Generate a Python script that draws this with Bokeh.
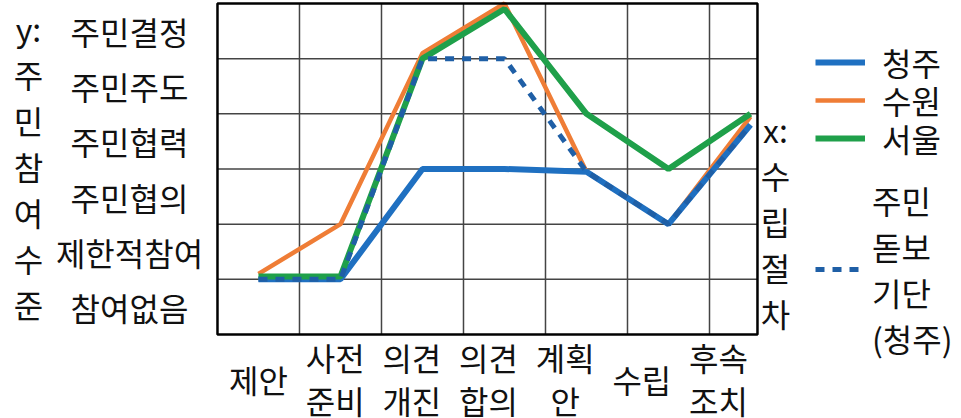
from bokeh.plotting import figure
from bokeh.models import Legend, LegendItem, Range1d
from bokeh.core.properties import value
from bokeh.embed import file_html
from bokeh.resources import INLINE

# ---- data ----
steps = ["제안", "사전\n준비", "의견\n개진", "의견\n합의", "계획\n안", "수립", "후속\n조치"]
levels = ["참여없음", "제한적참여", "주민협의", "주민협력", "주민주도", "주민결정"]
x_idx = [0, 1, 2, 3, 4, 5, 6]
cheongju = [1.0, 1.0, 3.0, 3.0, 2.95, 2.0, 3.8]
suwon = [1.1, 2.0, 5.1, 6.0, 2.95, 2.0, 3.95]
seoul = [1.05, 1.05, 5.0, 5.9, 4.0, 3.0, 4.0]
dotbogi = [1.0, 1.0, 5.0, 5.0, 2.95, 2.0, 3.8]
series_names = ["청주", "수원", "서울", "주민\n돋보\n기단\n(청주)"]
y_title = "y:\n주\n민\n참\n여\n수\n준"
x_title = "x:\n수\n립\n절\n차"

# ---- style / layout ----
FONT = value("Noto Sans CJK KR")
FS = value("32px")
TXT = "#111111"
BLUE = "#1f70c1"
ORANGE = "#ef7d36"
GREEN = "#1fa04a"
DASH = "#1f5fa6"
GRID = "#444444"

W, H = 961, 418
BOX_L, BOX_R = -0.5, 6.085          # plot box in data units
BOX_B, BOX_T = 0, len(levels)
X_START, X_END = -3.146, 8.573
Y_START, Y_END = -1.5226, 6.054
LABEL_PITCH = 0.935                  # spacing of the category labels
XLAB_Y = -0.80
YLAB_X = -1.573

p = figure(width=W, height=H, output_backend="svg", toolbar_location=None,
           x_axis_location=None, y_axis_location=None,
           x_range=Range1d(X_START, X_END), y_range=Range1d(Y_START, Y_END),
           min_border=0)
p.grid.visible = False
p.outline_line_color = None
p.background_fill_color = "white"
p.border_fill_color = "white"

# grid lines between categories and between levels
vx = [i + 0.5 for i in x_idx[:-1]]
p.segment(x0=vx, y0=[BOX_B] * len(vx), x1=vx, y1=[BOX_T] * len(vx),
          line_color=GRID, line_width=1.5)
hy = list(range(1, len(levels)))
p.segment(x0=[BOX_L] * len(hy), y0=hy, x1=[BOX_R] * len(hy), y1=hy,
          line_color=GRID, line_width=1.5)

r_su = p.line(x_idx, suwon, line_color=ORANGE, line_width=4.5)
r_cj = p.line(x_idx, cheongju, line_color=BLUE, line_width=6)
r_se = p.line(x_idx, seoul, line_color=GREEN, line_width=6)
r_db = p.line(x_idx, dotbogi, line_color=DASH, line_width=5, line_dash="9 8")

# plot box
p.quad(left=[BOX_L], right=[BOX_R], bottom=[BOX_B], top=[BOX_T],
       fill_color=None, line_color="black", line_width=2.5)

# y category labels
p.text(x=[YLAB_X] * len(levels), y=[i + 0.5 for i in range(len(levels))], text=levels,
       text_align="center", text_baseline="middle",
       text_font=FONT, text_font_size=FS, text_color=TXT)

# x category labels
p.text(x=[i * LABEL_PITCH for i in x_idx], y=[XLAB_Y] * len(steps), text=steps,
       text_align="center", text_baseline="middle", text_line_height=0.95,
       text_font=FONT, text_font_size=FS, text_color=TXT)

# axis titles
p.text(x=[-2.805], y=[3.063], text=[y_title], text_align="center", text_baseline="middle",
       text_line_height=1.0, text_font=FONT, text_font_size=FS, text_color=TXT)
p.text(x=[6.305], y=[2.066], text=[x_title], text_align="center", text_baseline="middle",
       text_line_height=1.0, text_font=FONT, text_font_size=FS, text_color=TXT)

# legend: one small legend per entry so each sits at its own row
leg_rows = [(series_names[0], r_cj, 333), (series_names[1], r_su, 295), (series_names[2], r_se, 257)]
for name, rend, ybot in leg_rows:
    p.add_layout(Legend(items=[LegendItem(label=name, renderers=[rend])],
                        location=(815, ybot), glyph_width=50, glyph_height=38, label_height=38,
                        spacing=0, padding=0, margin=0, border_line_color=None,
                        background_fill_alpha=0, label_standoff=17,
                        label_text_font="Noto Sans CJK KR", label_text_font_size="32px",
                        label_text_color=TXT))
p.add_layout(Legend(items=[LegendItem(label=series_names[3], renderers=[r_db])],
                    location=(815, 57), glyph_width=45, glyph_height=38, label_height=38,
                    spacing=0, padding=0, margin=0, border_line_color=None,
                    background_fill_alpha=0, label_standoff=12,
                    label_text_font="Noto Sans CJK KR", label_text_font_size="32px",
                    label_text_line_height=1.45, label_text_color=TXT))

open("out.html", "w").write(file_html(p, INLINE))
